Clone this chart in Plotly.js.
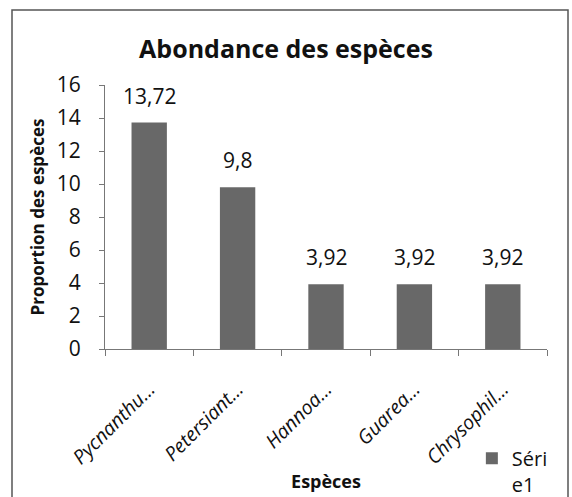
<!DOCTYPE html>
<html>
<head>
<meta charset="utf-8">
<script src="https://cdn.plot.ly/plotly-3.0.1.min.js"></script>
<style>html,body{margin:0;padding:0;background:#fff;}#chart{width:572px;height:497px;}</style>
</head>
<body>
<div id="chart"></div>
<script>
var categories = ["Pycnanthu…", "Petersiant…", "Hannoa…", "Guarea…", "Chrysophil…"];
var values = [13.72, 9.8, 3.92, 3.92, 3.92];
var valueLabels = ["13,72", "9,8", "3,92", "3,92", "3,92"];
var seriesName = "Séri<br>e1";
var yTicks = [0, 2, 4, 6, 8, 10, 12, 14, 16];

var FONT = "Open Sans, Lato, sans-serif";
var trace = {
  type: "bar",
  x: categories,
  y: values,
  name: seriesName,
  width: 0.4,
  marker: {color: "#686868", line: {width: 0}},
  showlegend: true,
  hoverinfo: "x+y"
};

var annotations = categories.map(function (c, i) {
  return {
    x: c, y: values[i], xref: "x", yref: "y",
    text: valueLabels[i], showarrow: false,
    yanchor: "middle", yshift: 27,
    font: {family: FONT, size: 21, color: "#111"}
  };
});

var layout = {
  width: 572, height: 497,
  margin: {l: 105, r: 25, t: 85, b: 148, autoexpand: false},
  paper_bgcolor: "#fff", plot_bgcolor: "#fff",
  separators: ", ",
  title: {
    text: "<b>Abondance des espèces</b>",
    font: {family: FONT, size: 25, color: "#111"},
    x: 0.5, xanchor: "center", y: 0.9, yanchor: "middle", yref: "container"
  },
  xaxis: {
    type: "category",
    tickangle: -45,
    automargin: false,
    tickfont: {family: FONT, size: 19.5, color: "#111", style: "italic"},
    showline: true, linecolor: "#777", linewidth: 1,
    ticks: "outside", ticklen: 6, tickcolor: "#777", tickson: "boundaries",
    ticklabelstandoff: 20,
    showgrid: false, zeroline: false,
    title: {text: "<b>Espèces</b>", font: {family: FONT, size: 18, color: "#111"}, standoff: 6}
  },
  yaxis: {
    range: [0, 16],
    tickvals: yTicks,
    automargin: false,
    tickfont: {family: FONT, size: 21, color: "#111"},
    showline: true, linecolor: "#777", linewidth: 1,
    ticks: "outside", ticklen: 5, tickcolor: "#777",
    ticklabelstandoff: 14,
    showgrid: false, zeroline: false,
    title: {text: "<b>Proportion des espèces</b>", font: {family: FONT, size: 17, color: "#111"}, standoff: 7}
  },
  showlegend: true,
  legend: {
    x: 0.83, y: -0.34, xanchor: "left", yanchor: "top",
    font: {family: FONT, size: 20, color: "#111"},
    bgcolor: "rgba(0,0,0,0)", valign: "top", itemwidth: 30, tracegroupgap: 0
  },
  annotations: annotations,
  shapes: [{
    type: "rect", xref: "paper", yref: "paper",
    x0: (12 - 105) / 442, x1: (568 - 105) / 442,
    y0: (349 - 505) / 264, y1: (349 - 10) / 264,
    line: {color: "#555", width: 1.5}, fillcolor: "rgba(0,0,0,0)", layer: "below"
  }]
};

Plotly.newPlot("chart", [trace], layout, {displayModeBar: false, staticPlot: true});
</script>
</body>
</html>
